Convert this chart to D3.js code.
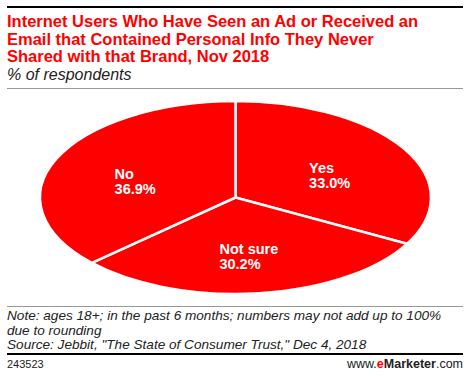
<!DOCTYPE html>
<html>
<head>
<meta charset="utf-8">
<script src="https://cdn.jsdelivr.net/npm/d3@7"></script>
<style>
  body { margin: 0; background: #fff; }
  text { font-family: "Liberation Sans", Arial, sans-serif; }
</style>
</head>
<body>
<svg id="chart"></svg>
<script>
// slice data, clockwise from 12 o'clock
var categories = ["Yes", "Not sure", "No"];
var shares = [33.0, 30.2, 36.9];

var titleLines = [
  "Internet Users Who Have Seen an Ad or Received an",
  "Email that Contained Personal Info They Never",
  "Shared with that Brand, Nov 2018"
];
var subtitle = "% of respondents";
var noteLines = [
  "Note: ages 18+; in the past 6 months; numbers may not add up to 100%",
  "due to rounding",
  "Source: Jebbit, \"The State of Consumer Trust,\" Dec 4, 2018"
];
var chartId = "243523";

var dimensions = {
  width: 470,
  height: 376,
  margin: { left: 7, right: 7 }
}

var red = "#ff0000";

var svg = d3.select("#chart")
  .attr("width", dimensions.width)
  .attr("height", dimensions.height)

// top rule
svg.append("line")
  .attr("x1", dimensions.margin.left).attr("x2", dimensions.width - dimensions.margin.right)
  .attr("y1", 7).attr("y2", 7)
  .attr("stroke", "#000").attr("stroke-width", 2)

svg.selectAll(".title")
  .data(titleLines)
  .enter().append("text")
    .attr("class", "title")
    .attr("x", dimensions.margin.left)
    .attr("y", function(d, i) { return 27 + i * 17.5; })
    .attr("fill", red)
    .style("font-size", "16.5px")
    .style("font-weight", "bold")
    .text(function(d) { return d; })

svg.append("text")
  .attr("x", dimensions.margin.left)
  .attr("y", 80)
  .style("font-size", "16px")
  .style("font-style", "italic")
  .attr("fill", "#222")
  .text(subtitle)

svg.append("line")
  .attr("x1", dimensions.margin.left).attr("x2", dimensions.width - dimensions.margin.right)
  .attr("y1", 88.5).attr("y2", 88.5)
  .attr("stroke", "#999").attr("stroke-width", 1)

// the pie is drawn on a unit circle then squashed into an ellipse
var ellipse = { cx: 235.5, cy: 197.5, rx: 195.5, ry: 96.5 };

var data = categories.map(function(c, i) { return { label: c, value: shares[i] }; });

var pie = d3.pie()
  .sort(null)
  .value(function(d) { return d.value; });

var arc = d3.arc().innerRadius(0).outerRadius(1);

var slices = pie(data);

svg.append("g")
  .attr("transform", "translate(" + ellipse.cx + "," + ellipse.cy + ") scale(" + ellipse.rx + "," + ellipse.ry + ")")
  .selectAll("path")
  .data(slices)
  .enter().append("path")
    .attr("d", arc)
    .attr("fill", red)
    .attr("stroke", "#fff")
    .attr("stroke-width", 2.5)
    .attr("vector-effect", "non-scaling-stroke")

// labels: block of two lines, centred on a point partway out along the mid angle
var labelArc = d3.arc().innerRadius(0).outerRadius(1.12);

var labels = svg.append("g")
  .selectAll("g")
  .data(slices)
  .enter().append("g")

labels.each(function(d) {
  var c = labelArc.centroid(d);
  var px = ellipse.cx + c[0] * ellipse.rx;
  var py = ellipse.cy + c[1] * ellipse.ry;
  var g = d3.select(this);
  var t = g.append("text")
    .attr("fill", "#fff")
    .style("font-size", "14.5px")
    .style("font-weight", "bold")
  t.append("tspan").attr("x", 0).attr("y", 0).text(d.data.label)
  t.append("tspan").attr("x", 0).attr("y", 15).text(d.data.value.toFixed(1) + "%")
  var w = t.node().getBBox().width;
  g.attr("transform", "translate(" + (px - w / 2) + "," + (py + 3) + ")")
})

// footer
svg.append("line")
  .attr("x1", dimensions.margin.left).attr("x2", dimensions.width - dimensions.margin.right)
  .attr("y1", 306.5).attr("y2", 306.5)
  .attr("stroke", "#999").attr("stroke-width", 1)

svg.selectAll(".note")
  .data(noteLines)
  .enter().append("text")
    .attr("class", "note")
    .attr("x", dimensions.margin.left)
    .attr("y", function(d, i) { return 320 + i * 14.5; })
    .style("font-size", "13.6px")
    .style("font-style", "italic")
    .attr("fill", "#222")
    .text(function(d) { return d; })

svg.append("line")
  .attr("x1", dimensions.margin.left).attr("x2", dimensions.width - dimensions.margin.right)
  .attr("y1", 354).attr("y2", 354)
  .attr("stroke", "#000").attr("stroke-width", 2)

svg.append("text")
  .attr("x", dimensions.margin.left)
  .attr("y", 368)
  .style("font-size", "11px")
  .attr("fill", "#222")
  .text(chartId)

var brand = svg.append("text")
  .attr("x", dimensions.width - dimensions.margin.right)
  .attr("y", 368)
  .attr("text-anchor", "end")
  .style("font-size", "12.5px")
  .attr("fill", "#222")
brand.append("tspan").text("www.")
brand.append("tspan").attr("fill", red).style("font-weight", "bold").text("e")
brand.append("tspan").style("font-weight", "bold").text("Marketer")
brand.append("tspan").text(".com")
</script>
</body>
</html>
